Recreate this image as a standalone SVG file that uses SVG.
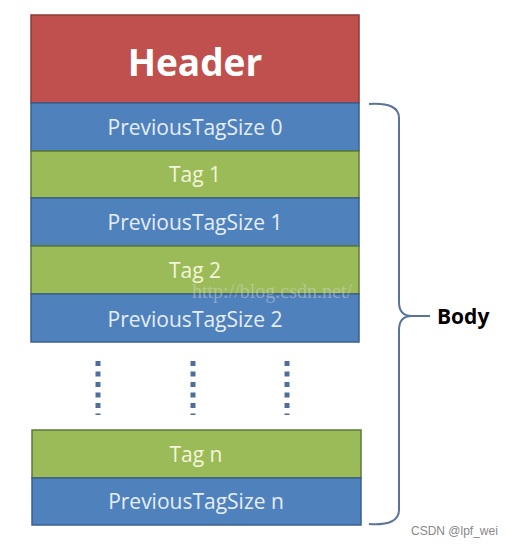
<svg xmlns="http://www.w3.org/2000/svg" width="514" height="547" viewBox="0 0 514 547">
<style>
.blk{stroke:#3a5f8f;stroke-width:1.5}
.blue{fill:#4F81BD}
.green{fill:#9BBB59;stroke:#5e7a3a}
.red{fill:#C0504D;stroke:#8c3a38}
.t{font-family:"Open Sans","Noto Sans",sans-serif;font-size:21px;text-anchor:middle;dominant-baseline:central}
.tb{fill:#E6EEF8}
.tg{fill:#F4F5D8}
.dot{stroke:#4F6E9A;stroke-width:5;stroke-dasharray:5,5.5}
</style>
<rect width="514" height="547" fill="#ffffff"/>
<g id="header"><rect class="blk red" x="31" y="15" width="328" height="88"/><text x="195" y="61" class="t" style="font-size:37px;font-weight:bold;fill:#fff">Header</text></g>
<g id="pts0"><rect class="blk blue" x="31" y="103" width="328" height="48"/><text x="195" y="127" class="t tb">PreviousTagSize 0</text></g>
<g id="tag1"><rect class="blk green" x="31" y="151" width="328" height="47"/><text x="195" y="174" class="t tg">Tag 1</text></g>
<g id="pts1"><rect class="blk blue" x="31" y="198" width="328" height="48"/><text x="195" y="222" class="t tb">PreviousTagSize 1</text></g>
<g id="tag2"><rect class="blk green" x="31" y="246" width="328" height="48"/><text x="195" y="270" class="t tg">Tag 2</text></g>
<g id="pts2"><rect class="blk blue" x="31" y="294" width="328" height="48"/><text x="195" y="319" class="t tb">PreviousTagSize 2</text></g>
<g id="dots"><line class="dot" x1="98" y1="361" x2="98" y2="415"/><line class="dot" x1="193" y1="361" x2="193" y2="415"/><line class="dot" x1="287" y1="361" x2="287" y2="415"/></g>
<g id="tagn"><rect class="blk green" x="32" y="430" width="329" height="48"/><text x="196" y="454" class="t tg">Tag n</text></g>
<g id="ptsn"><rect class="blk blue" x="32" y="478" width="329" height="47"/><text x="196" y="501" class="t tb">PreviousTagSize n</text></g>
<text x="272" y="298" style="font-family:'Liberation Serif',serif;font-size:20px;fill:#d8d8d8;fill-opacity:0.45;text-anchor:middle">http://blog.csdn.net/</text>
<g id="connectors"><path d="M369,104 Q399,102 399,118 L399,302 Q399,316 412,316 Q399,316 399,330 L399,510 Q399,526 369,524" fill="none" stroke="#5A7499" stroke-width="2"/><line x1="412" y1="316" x2="430" y2="316" stroke="#5A7499" stroke-width="2"/></g>
<g id="body"><text x="437" y="316" style="font-family:'Open Sans','Noto Sans',sans-serif;font-size:21px;font-weight:bold;fill:#000;dominant-baseline:central">Body</text></g>
<text x="411" y="535" style="font-family:'Liberation Sans',sans-serif;font-size:12px;fill:#888">CSDN @lpf_wei</text>
</svg>
